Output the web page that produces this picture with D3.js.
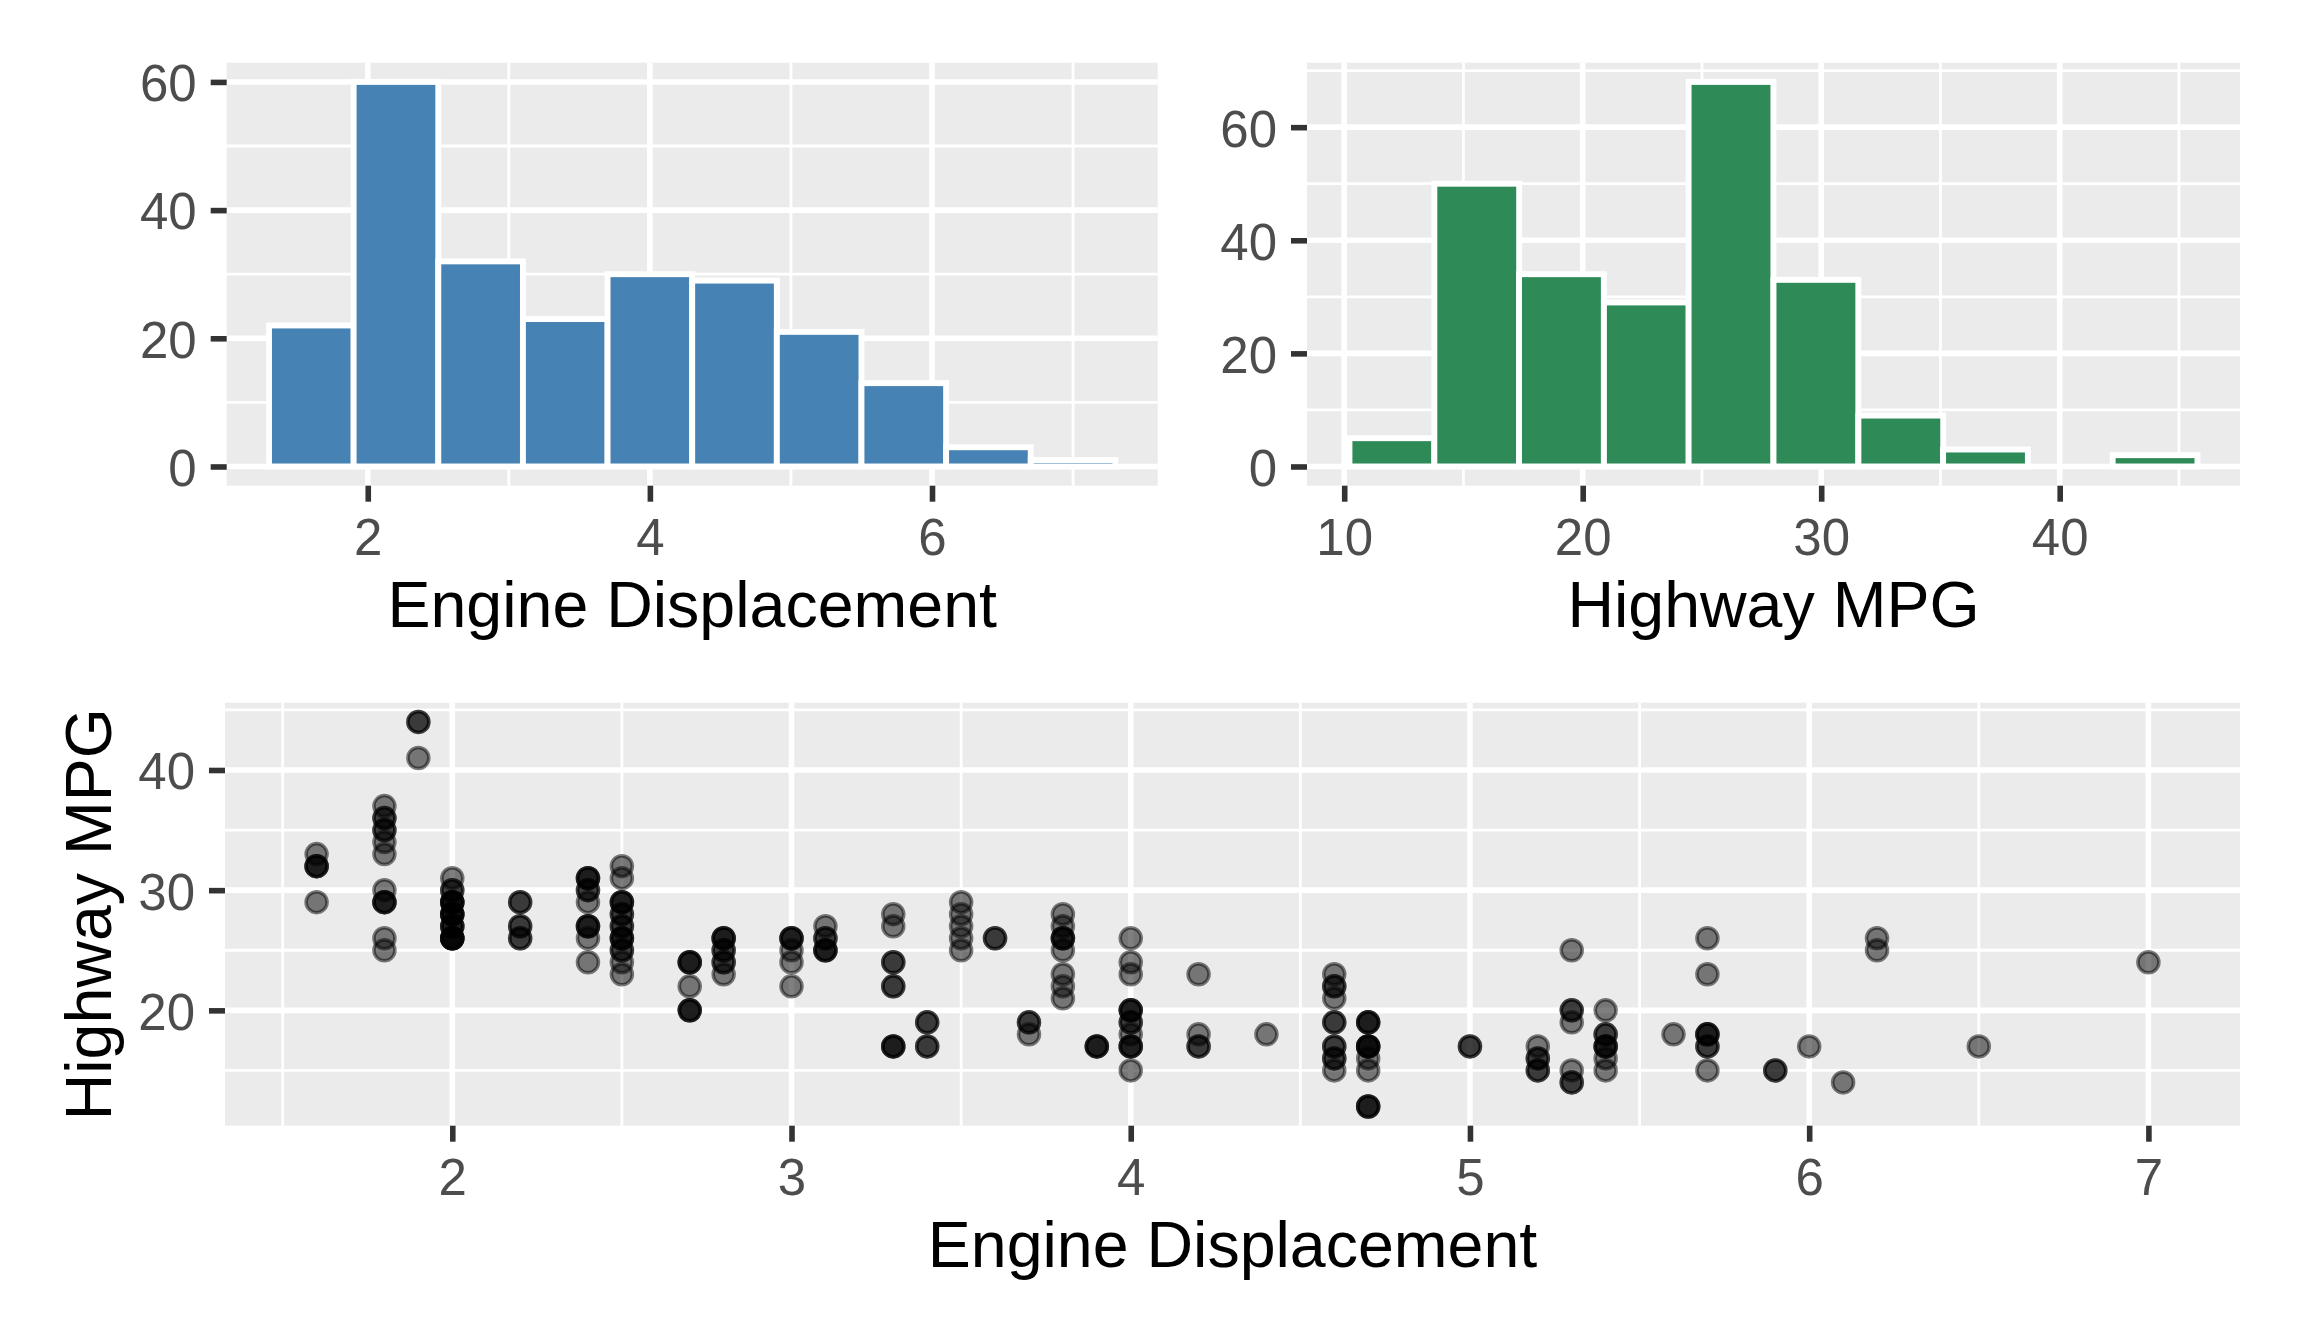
<!DOCTYPE html>
<html>
<head>
<meta charset="utf-8">
<script src="https://cdn.jsdelivr.net/npm/d3@7"></script>
<style>
  body { margin: 0; background: #fff; }
  svg { display: block; }
</style>
</head>
<body>
<div id="chart"></div>
<script>
// --- data ---
// engine displacement histogram (10 bins, width 0.6)
const dispBinStart = [1.3, 1.9, 2.5, 3.1, 3.7, 4.3, 4.9, 5.5, 6.1, 6.7];
const dispBinWidth = 0.6;
const dispCounts = [22, 60, 32, 23, 30, 29, 21, 13, 3, 1];

// highway mpg histogram (10 bins, width 3.556)
const hwyBinStart = [10.22, 13.78, 17.33, 20.89, 24.44, 28.0, 31.56, 35.11, 38.67, 42.22];
const hwyBinWidth = 3.556;
const hwyCounts = [5, 50, 34, 29, 68, 33, 9, 3, 0, 2];

// scatter: distinct (displ, hwy) positions and how many cars sit on each
const ptDispl = [
  1.6, 1.6, 1.6,
  1.8, 1.8, 1.8, 1.8, 1.8, 1.8, 1.8, 1.8, 1.8,
  1.9, 1.9,
  2.0, 2.0, 2.0, 2.0, 2.0, 2.0,
  2.2, 2.2, 2.2,
  2.4, 2.4, 2.4, 2.4, 2.4, 2.4,
  2.5, 2.5, 2.5, 2.5, 2.5, 2.5, 2.5, 2.5, 2.5,
  2.7, 2.7, 2.7,
  2.8, 2.8, 2.8, 2.8,
  3.0, 3.0, 3.0, 3.0,
  3.1, 3.1, 3.1,
  3.3, 3.3, 3.3, 3.3, 3.3,
  3.4, 3.4,
  3.5, 3.5, 3.5, 3.5, 3.5,
  3.6,
  3.7, 3.7,
  3.8, 3.8, 3.8, 3.8, 3.8, 3.8, 3.8,
  3.9,
  4.0, 4.0, 4.0, 4.0, 4.0, 4.0, 4.0, 4.0,
  4.2, 4.2, 4.2,
  4.4,
  4.6, 4.6, 4.6, 4.6, 4.6, 4.6, 4.6,
  4.7, 4.7, 4.7, 4.7, 4.7,
  5.0,
  5.2, 5.2, 5.2,
  5.3, 5.3, 5.3, 5.3, 5.3,
  5.4, 5.4, 5.4, 5.4, 5.4,
  5.6,
  5.7, 5.7, 5.7, 5.7, 5.7,
  5.9, 6.0, 6.1, 6.2, 6.2, 6.5, 7.0
];
const ptHwy = [
  33, 32, 29,
  37, 36, 35, 34, 33, 30, 29, 26, 25,
  44, 41,
  31, 30, 29, 28, 27, 26,
  29, 27, 26,
  31, 30, 29, 27, 26, 24,
  32, 31, 29, 28, 27, 26, 25, 24, 23,
  24, 22, 20,
  26, 25, 24, 23,
  26, 25, 24, 22,
  27, 26, 25,
  28, 27, 24, 22, 17,
  19, 17,
  29, 28, 27, 26, 25,
  26,
  19, 18,
  28, 27, 26, 25, 23, 22, 21,
  17,
  26, 24, 23, 20, 19, 18, 17, 15,
  23, 18, 17,
  18,
  23, 22, 21, 19, 17, 16, 15,
  19, 17, 16, 15, 12,
  17,
  17, 16, 15,
  25, 20, 19, 15, 14,
  20, 18, 17, 16, 15,
  18,
  26, 23, 18, 17, 15,
  15, 17, 14, 26, 25, 17, 24
];
const ptCount = [
  1, 3, 1,
  1, 2, 2, 1, 1, 1, 3, 1, 1,
  2, 1,
  1, 2, 4, 4, 3, 5,
  2, 2, 2,
  3, 2, 1, 3, 1, 1,
  1, 1, 3, 2, 2, 3, 2, 1, 1,
  3, 1, 3,
  3, 2, 2, 1,
  3, 1, 1, 1,
  1, 2, 3,
  1, 1, 2, 2, 3,
  2, 2,
  1, 1, 1, 1, 1,
  2,
  2, 1,
  1, 1, 3, 1, 1, 1, 1,
  3,
  1, 1, 1, 3, 2, 1, 3, 1,
  1, 1, 2,
  1,
  1, 2, 1, 2, 2, 2, 1,
  3, 4, 1, 1, 3,
  2,
  1, 2, 2,
  1, 2, 1, 1, 2,
  1, 2, 3, 1, 1,
  1,
  1, 1, 3, 2, 1,
  2, 1, 1, 1, 1, 1, 1
];

// breaks
const dispHistMajor = [2, 4, 6];
const dispHistMinor = [3, 5, 7];
const hwyHistMajor = [10, 20, 30, 40];
const hwyHistMinor = [15, 25, 35, 45];
const countMajor = [0, 20, 40, 60];
const countMinor = [10, 30, 50, 70];
const scatDisplMajor = [2, 3, 4, 5, 6, 7];
const scatDisplMinor = [1.5, 2.5, 3.5, 4.5, 5.5, 6.5];
const scatHwyMajor = [20, 30, 40];
const scatHwyMinor = [15, 25, 35, 45];

const W = 2304, H = 1344;
const FONT = "Arial, 'Liberation Sans', sans-serif";
const MAJOR_W = 5.6, MINOR_W = 2.8;

const svg = d3.select("#chart").append("svg")
  .attr("width", W).attr("height", H);
svg.append("rect").attr("width", W).attr("height", H).attr("fill", "#fff");

// ggplot-like panel with grey background, white grid, ticks and labels
function panel(x, y, xMajor, xMinor, yMajor, yMinor, xTitle, yTitle) {
  const g = svg.append("g");
  const [x0, x1] = x.range();
  const [y0, y1] = y.range(); // y0 bottom, y1 top
  g.append("rect")
    .attr("x", x0).attr("y", y1)
    .attr("width", x1 - x0).attr("height", y0 - y1)
    .attr("fill", "#ebebeb");

  const inX = xMinor.filter(v => v >= x.domain()[0] && v <= x.domain()[1]);
  const inY = yMinor.filter(v => v >= y.domain()[0] && v <= y.domain()[1]);

  g.selectAll(".minx").data(inX).enter().append("line")
    .attr("x1", d => x(d)).attr("x2", d => x(d))
    .attr("y1", y0).attr("y2", y1)
    .attr("stroke", "#fff").attr("stroke-width", MINOR_W);
  g.selectAll(".miny").data(inY).enter().append("line")
    .attr("y1", d => y(d)).attr("y2", d => y(d))
    .attr("x1", x0).attr("x2", x1)
    .attr("stroke", "#fff").attr("stroke-width", MINOR_W);
  g.selectAll(".majx").data(xMajor).enter().append("line")
    .attr("x1", d => x(d)).attr("x2", d => x(d))
    .attr("y1", y0).attr("y2", y1)
    .attr("stroke", "#fff").attr("stroke-width", MAJOR_W);
  g.selectAll(".majy").data(yMajor).enter().append("line")
    .attr("y1", d => y(d)).attr("y2", d => y(d))
    .attr("x1", x0).attr("x2", x1)
    .attr("stroke", "#fff").attr("stroke-width", MAJOR_W);

  const ax = svg.append("g")
    .attr("transform", "translate(0," + y0 + ")")
    .call(d3.axisBottom(x).tickValues(xMajor).tickSize(16).tickPadding(17).tickFormat(d3.format("d")));
  const ay = svg.append("g")
    .attr("transform", "translate(" + x0 + ",0)")
    .call(d3.axisLeft(y).tickValues(yMajor).tickSize(16).tickPadding(14).tickFormat(d3.format("d")));
  [ax, ay].forEach(a => {
    a.select(".domain").remove();
    a.selectAll(".tick line").attr("stroke", "#333333").attr("stroke-width", MAJOR_W);
    a.selectAll(".tick text")
      .attr("fill", "#4d4d4d")
      .style("font-family", FONT)
      .style("font-size", "51px");
  });
  ay.selectAll(".tick text").attr("dy", "0.37em");

  if (xTitle) {
    svg.append("text")
      .attr("x", (x0 + x1) / 2).attr("y", y0 + 141)
      .attr("text-anchor", "middle")
      .style("font-family", FONT).style("font-size", "64.5px")
      .attr("fill", "#000")
      .text(xTitle);
  }
  if (yTitle) {
    svg.append("text")
      .attr("transform", "translate(111," + (y0 + y1) / 2 + ") rotate(-90)")
      .attr("text-anchor", "middle")
      .style("font-family", FONT).style("font-size", "64.5px")
      .attr("fill", "#000")
      .text(yTitle);
  }
  return g;
}

// --- top left: engine displacement histogram ---
const xDisp = d3.scaleLinear().domain([1.0, 7.6]).range([226.7, 1157.7]);
const yDisp = d3.scaleLinear().domain([-3, 63]).range([485.7, 62.7]);
const gDisp = panel(xDisp, yDisp, dispHistMajor, dispHistMinor, countMajor, countMinor, "Engine Displacement", null);
gDisp.selectAll(".bar")
  .data(dispCounts)
  .enter()
  .append("rect")
  .attr("x", (d, i) => xDisp(dispBinStart[i]))
  .attr("width", (d, i) => xDisp(dispBinStart[i] + dispBinWidth) - xDisp(dispBinStart[i]))
  .attr("y", d => yDisp(d))
  .attr("height", d => yDisp(0) - yDisp(d))
  .attr("fill", "steelblue")
  .attr("stroke", "#fff")
  .attr("stroke-width", 5.9);

// --- top right: highway mpg histogram ---
const xHwy = d3.scaleLinear().domain([8.44, 47.56]).range([1307, 2240]);
const yHwy = d3.scaleLinear().domain([-3.4, 71.4]).range([485.7, 62.7]);
const gHwy = panel(xHwy, yHwy, hwyHistMajor, hwyHistMinor, countMajor, countMinor, "Highway MPG", null);
gHwy.selectAll(".bar")
  .data(hwyCounts)
  .enter()
  .append("rect")
  .attr("x", (d, i) => xHwy(hwyBinStart[i]))
  .attr("width", (d, i) => xHwy(hwyBinStart[i] + hwyBinWidth) - xHwy(hwyBinStart[i]))
  .attr("y", d => yHwy(d))
  .attr("height", d => yHwy(0) - yHwy(d))
  .attr("fill", "seagreen")
  .attr("stroke", "#fff")
  .attr("stroke-width", 5.9);

// --- bottom: scatter of displacement vs highway mpg ---
const points = [];
ptDispl.forEach((d, i) => {
  for (let k = 0; k < ptCount[i]; k++) points.push({ displ: d, hwy: ptHwy[i] });
});

const xSc = d3.scaleLinear().domain([1.33, 7.27]).range([225, 2240]);
const ySc = d3.scaleLinear().domain([10.4, 45.6]).range([1125.7, 702.7]);
const gSc = panel(xSc, ySc, scatDisplMajor, scatDisplMinor, scatHwyMajor, scatHwyMinor, "Engine Displacement", "Highway MPG");
gSc.selectAll(".pt")
  .data(points)
  .enter()
  .append("circle")
  .attr("cx", d => xSc(d.displ))
  .attr("cy", d => ySc(d.hwy))
  .attr("r", 10.5)
  .attr("fill", "#000")
  .attr("fill-opacity", 0.5)
  .attr("stroke", "#000")
  .attr("stroke-opacity", 0.5)
  .attr("stroke-width", 3.5);
</script>
</body>
</html>
